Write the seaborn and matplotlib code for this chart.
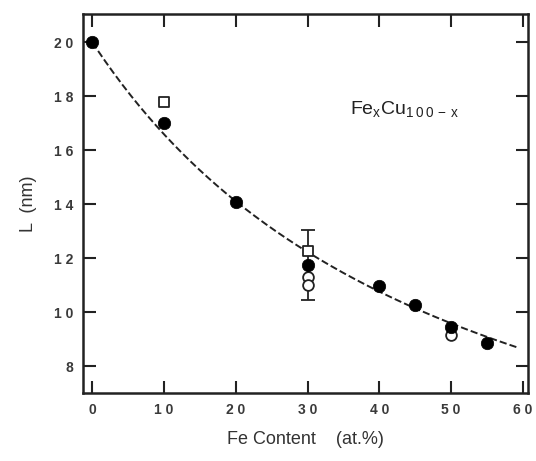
import numpy as np
import pandas as pd
import matplotlib
matplotlib.use("Agg")
import matplotlib.pyplot as plt
import seaborn as sns

# Measured grain size L (nm) versus Fe content (at.%)
fe_filled = [0, 10, 20, 30, 40, 45, 50, 55]
L_filled = [20.0, 17.0, 14.1, 11.75, 10.95, 10.28, 9.45, 8.85]

fe_square = [10, 30]
L_square = [17.8, 12.25]

fe_open = [30, 30, 50]
L_open = [11.3, 11.0, 9.15]

# Error bar on the 30 at.% sample
err_x = [30]
err_y = [11.75]
err_dy = [1.3]

# Fitted trend L = L0 * (1 + x/x0)^(-p)
fit_L0, fit_x0, fit_p = 20.0, 60.0, 1.214
fit_range = (0.0, 59.3)

x_ticks = [0, 10, 20, 30, 40, 50, 60]
y_ticks = [8, 10, 12, 14, 16, 18, 20]

sns.set_style("ticks")
plt.rcParams["font.family"] = ["Liberation Sans", "DejaVu Sans"]

fig = plt.figure(figsize=(5.36, 4.61), dpi=100)
ax = fig.add_axes([0.155, 0.1475, 0.83, 0.822])

xf = np.linspace(fit_range[0], fit_range[1], 200)
fit_df = pd.DataFrame({"x": xf, "L": fit_L0 * (1 + xf / fit_x0) ** (-fit_p)})
sns.lineplot(data=fit_df, x="x", y="L", ax=ax, color="#222222", lw=1.4,
             dashes=(3.2, 2.4), linestyle="--")

ax.errorbar(err_x, err_y, yerr=err_dy, fmt="none", ecolor="#222222",
            elinewidth=1.3, capsize=5, capthick=1.3, zorder=3)

sns.scatterplot(x=fe_square, y=L_square, ax=ax, marker="s", s=60,
                facecolor="white", edgecolor="#222222", linewidth=1.3, zorder=4)
sns.scatterplot(x=fe_open, y=L_open, ax=ax, marker="o", s=60,
                facecolor="white", edgecolor="#222222", linewidth=1.3, zorder=4)
sns.scatterplot(x=fe_filled, y=L_filled, ax=ax, marker="o", s=80,
                color="black", edgecolor="black", linewidth=0.5, zorder=5)

ax.set_xlim(-1.3, 60.7)
ax.set_ylim(7.0, 21.05)
ax.set_xticks(x_ticks)
ax.set_yticks(y_ticks)
ax.set_xticklabels([" ".join(str(t)) for t in x_ticks], fontweight="bold")
ax.set_yticklabels([" ".join(str(t)) for t in y_ticks], fontweight="bold")

ax.tick_params(direction="in", length=9, width=1.5, top=True, right=True,
               labelsize=10, colors="#222222", labelcolor="#3a3a3a", pad=7)
for sp in ax.spines.values():
    sp.set_linewidth(1.8)
    sp.set_color("#222222")

ax.set_xlabel("Fe Content    (at.%)", fontsize=13, color="#333333", labelpad=10)
ax.set_ylabel("L  (nm)", fontsize=13, color="#333333", labelpad=12)

ax.text(0.6, 0.735, r"Fe$_\mathregular{x}$Cu$_\mathregular{1\,0\,0\,-\,x}$",
        transform=ax.transAxes, fontsize=14, color="#222222")

fig.savefig("out.png", dpi=100)
